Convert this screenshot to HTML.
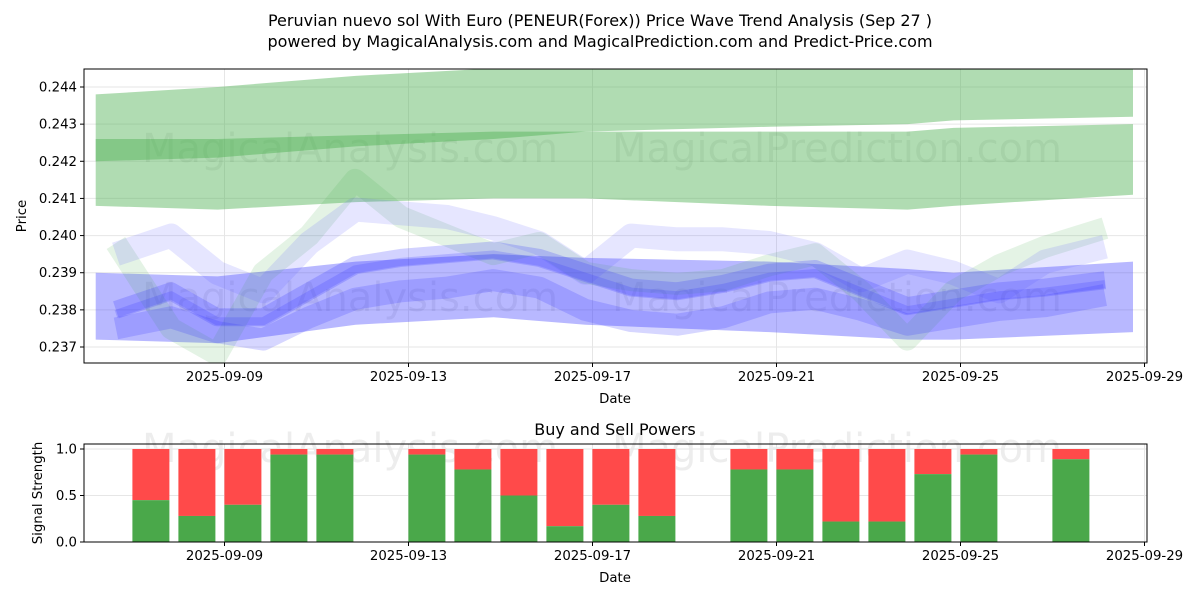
<!DOCTYPE html>
<html><head><meta charset="utf-8"><style>
body{margin:0;background:#fff;}
svg text{font-family:"DejaVu Sans","Liberation Sans",sans-serif;}
</style></head><body>
<svg id="c" width="1200" height="600" xmlns="http://www.w3.org/2000/svg">
<rect width="1200" height="600" fill="#fff"/>
<text x="600" y="26" font-size="16" text-anchor="middle">Peruvian nuevo sol With Euro (PENEUR(Forex)) Price Wave Trend Analysis (Sep 27 )</text>
<text x="600" y="47" font-size="16" text-anchor="middle">powered by MagicalAnalysis.com and MagicalPrediction.com and Predict-Price.com</text>
<g id="topPlot"></g>
<g id="botPlot"></g>
</svg>
<script>
// ---- data ----
const yTicks=[0.237,0.238,0.239,0.240,0.241,0.242,0.243,0.244];
const xTickDays=[9,13,17,21,25,29];
const xTickLabels=["2025-09-09","2025-09-13","2025-09-17","2025-09-21","2025-09-25","2025-09-29"];
const bandDays=[6.2,8.85,11.85,14.85,16.85,20.85,23.85,24.85,28.75];
const greenTopUpper=[0.2438,0.2440,0.2443,0.2445,0.2445,0.2445,0.2445,0.2445,0.2445];
const greenTopLower=[0.2420,0.2421,0.2424,0.2426,0.2428,0.24293,0.2430,0.2431,0.2432];
const greenBotUpper=[0.2426,0.2426,0.2427,0.2428,0.2428,0.2428,0.2428,0.2429,0.2430];
const greenBotLower=[0.2408,0.2407,0.2409,0.2410,0.2410,0.2408,0.2407,0.2408,0.2411];
const blueUpper=[0.2390,0.2389,0.2393,0.2395,0.2394,0.2393,0.2391,0.2390,0.2393];
const blueLower=[0.2372,0.2371,0.2376,0.2378,0.2376,0.2374,0.2372,0.2372,0.2374];
const waveDays=[6.64,7.84,8.84,9.84,10.84,11.84,12.84,13.84,14.84,15.84,16.84,17.84,18.84,19.84,20.84,21.84,22.84,23.84,24.84,25.84,26.84,28.14];
const waveMid=[0.2380,0.2385,0.2378,0.2378,0.2385,0.2392,0.2394,0.2395,0.2396,0.2394,0.2390,0.2386,0.2385,0.2387,0.2390,0.2391,0.2386,0.2381,0.2383,0.2385,0.2386,0.2388];
const waveHigh=[0.2395,0.2400,0.2390,0.2385,0.2398,0.2407,0.2406,0.2405,0.2402,0.2398,0.2390,0.2400,0.2399,0.2399,0.2398,0.2395,0.2388,0.2393,0.2390,0.2385,0.2393,0.2397];
const waveLow=[0.2375,0.2378,0.2374,0.2372,0.2378,0.2383,0.2385,0.2386,0.2388,0.2386,0.2380,0.2377,0.2376,0.2378,0.2382,0.2383,0.2380,0.2376,0.2378,0.2380,0.2381,0.2384];
const waveGreen=[0.2398,0.2375,0.2368,0.2390,0.2400,0.2415,0.2405,0.2400,0.2395,0.2398,0.2390,0.2388,0.2387,0.2388,0.2392,0.2395,0.2385,0.2372,0.2385,0.2392,0.2397,0.2402];
const barDays=[8,9,10,11,12,14,15,16,17,18,19,21,22,23,24,25,26,28];
const buyPower=[0.45,0.28,0.40,0.94,0.94,0.94,0.78,0.50,0.17,0.40,0.28,0.78,0.78,0.22,0.22,0.73,0.94,0.89];
const powerTicks=[0.0,0.5,1.0];
// ---- axes ----
const L=84,R=1147,T1=69,B1=363,T2=444,B2=542;
const xs=d=>224.5+(d-9)*46;
const xb=d=>xs(d-0.6);
const y1=v=>347-(v-0.237)*37143;
const y2=v=>542-v*93;
const NS="http://www.w3.org/2000/svg";
function mk(p,tag,a){const e=document.createElementNS(NS,tag);for(const k in a)e.setAttribute(k,a[k]);p.appendChild(e);return e;}
const topG=document.getElementById('topPlot'),botG=document.getElementById('botPlot');
yTicks.forEach(v=>{const l=mk(topG,'line',{x1:L,x2:R,y1:y1(v),y2:y1(v),stroke:'#e6e6e6'});});
xTickDays.forEach(d=>{mk(topG,'line',{x1:xs(d),x2:xs(d),y1:T1,y2:B1,stroke:'#e6e6e6'});mk(botG,'line',{x1:xs(d),x2:xs(d),y1:T2,y2:B2,stroke:'#e6e6e6'});});
powerTicks.forEach(v=>mk(botG,'line',{x1:L,x2:R,y1:y2(v),y2:y2(v),stroke:'#e6e6e6'}));
[[350,162],[837,162],[350,311],[837,311],[350,462],[837,462]].forEach(p=>{const t=mk(topG,'text',{x:p[0],y:p[1],'font-size':40,fill:'#000','fill-opacity':0.07,'text-anchor':'middle'});t.textContent=p[0]<600?'MagicalAnalysis.com':'MagicalPrediction.com';});
const clip=mk(topG,'clipPath',{id:'cp'});mk(clip,'rect',{x:L,y:T1,width:R-L,height:B1-T1});
const g=mk(topG,'g',{'clip-path':'url(#cp)'});
function band(up,lo,fill,op,name){let d='M'+bandDays.map((x,i)=>xs(x)+','+y1(up[i])).join('L');d+='L'+bandDays.map((x,i)=>xs(x)+','+y1(lo[i])).reverse().join('L')+'Z';const p=mk(g,'path',{d:d,fill:fill,'fill-opacity':op});}
function wv(arr,col,w,op,name,off){const d='M'+waveDays.map((x,i)=>xs(x)+','+(y1(arr[i])+off)).join('L');const p=mk(g,'path',{d:d,fill:'none',stroke:col,'stroke-width':w,'stroke-opacity':op,'stroke-linejoin':'round'});}
band(greenTopUpper,greenTopLower,'#4caf50',0.44,'green-band-upper');
band(greenBotUpper,greenBotLower,'#4caf50',0.44,'green-band-lower');
band(blueUpper,blueLower,'#3333ff',0.35,'blue-band');
wv(waveGreen,'#4caf50',22,0.15,'green-wave',0);
wv(waveHigh,'#5555ff',24,0.15,'blue-wave-high',0);
wv(waveLow,'#3333ff',22,0.2,'blue-wave-low',0);
wv(waveMid,'#3333ff',18,0.22,'blue-wave-mid',0);
wv(waveMid,'#3333ff',8,0.2,'blue-wave-core',4);
const f1=mk(topG,'rect',{x:L,y:T1,width:R-L,height:B1-T1,fill:'none',stroke:'#000'});
yTicks.forEach(v=>{mk(topG,'line',{x1:L-4,x2:L,y1:y1(v),y2:y1(v),stroke:'#000'});const t=mk(topG,'text',{x:L-7,y:y1(v)+4.5,'font-size':13.3,'text-anchor':'end'});t.textContent=v.toFixed(3);});
xTickDays.forEach((d,i)=>{mk(topG,'line',{x1:xs(d),x2:xs(d),y1:B1,y2:B1+4,stroke:'#000'});const t=mk(topG,'text',{x:xs(d),y:B1+18,'font-size':13.3,'text-anchor':'middle'});t.textContent=xTickLabels[i];
mk(botG,'line',{x1:xs(d),x2:xs(d),y1:B2,y2:B2+4,stroke:'#000'});const t2=mk(botG,'text',{x:xs(d),y:B2+18,'font-size':13.3,'text-anchor':'middle'});t2.textContent=xTickLabels[i];});
let tt=mk(topG,'text',{x:615,y:403,'font-size':13.3,'text-anchor':'middle'});tt.textContent='Date';
tt=mk(topG,'text',{x:26,y:216,'font-size':13.3,'text-anchor':'middle',transform:'rotate(-90 26 216)'});tt.textContent='Price';
barDays.forEach((d,i)=>{const x=xb(d)-18.5;const r=mk(botG,'rect',{x:x,y:y2(1),width:37,height:y2(buyPower[i])-y2(1),fill:'#ff4a4a'});
const gr=mk(botG,'rect',{x:x,y:y2(buyPower[i]),width:37,height:y2(0)-y2(buyPower[i]),fill:'#4aa84a'});});
const f2=mk(botG,'rect',{x:L,y:T2,width:R-L,height:B2-T2,fill:'none',stroke:'#000'});
powerTicks.forEach(v=>{mk(botG,'line',{x1:L-4,x2:L,y1:y2(v),y2:y2(v),stroke:'#000'});const t=mk(botG,'text',{x:L-7,y:y2(v)+4.5,'font-size':13.3,'text-anchor':'end'});t.textContent=v.toFixed(1);});
tt=mk(botG,'text',{x:615,y:435,'font-size':16,'text-anchor':'middle'});tt.textContent='Buy and Sell Powers';
tt=mk(botG,'text',{x:615,y:582,'font-size':13.3,'text-anchor':'middle'});tt.textContent='Date';
tt=mk(botG,'text',{x:42,y:493,'font-size':13.3,'text-anchor':'middle',transform:'rotate(-90 42 493)'});tt.textContent='Signal Strength';
</script>
</body></html>
